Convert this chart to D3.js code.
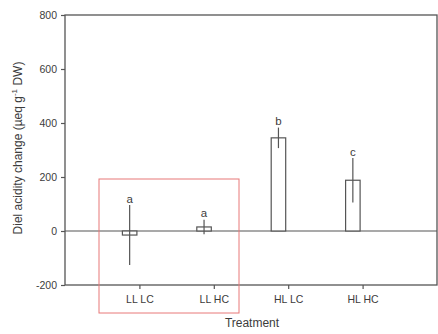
<!DOCTYPE html>
<html><head><meta charset="utf-8">
<script src="https://cdn.jsdelivr.net/npm/d3@7"></script>
<style>body{margin:0;background:#fff;}svg{display:block;font-family:Arial,"Liberation Sans",sans-serif;}</style>
</head><body>
<svg id="c" width="438" height="334"></svg>
<script>
const categories = ["LL LC", "LL HC", "HL LC", "HL HC"];
const means = [-15, 15, 345, 188];
const errors = [111, 27, 38, 82];
const letters = ["a", "a", "b", "c"];
const yTicks = [-200, 0, 200, 400, 600, 800];

const svg = d3.select("#c");
const L = 65, R = 437, T = 15, B = 285;
const x = d3.scaleLinear().domain([0, 5]).range([L, R]);
const y = d3.scaleLinear().domain([-200, 800]).range([B, T]);
const ink = "#555";
const txt = "#3c3c3c";
const bw = 14.5;
const ff = "Arial, Liberation Sans, sans-serif";

// frame
svg.append("rect").attr("x", L).attr("y", T).attr("width", R - L).attr("height", B - T)
  .attr("fill", "none").attr("stroke", ink).attr("stroke-width", 1.3);

// zero line
svg.append("line").attr("x1", L).attr("x2", R).attr("y1", y(0)).attr("y2", y(0))
  .attr("stroke", ink).attr("stroke-width", 1.2);

// y axis
const ya = svg.append("g").attr("transform", `translate(${L},0)`)
  .call(d3.axisLeft(y).tickValues(yTicks).tickFormat(d => String(d)).tickSize(4).tickPadding(4));
ya.select(".domain").remove();
ya.selectAll("line").attr("stroke", ink).attr("stroke-width", 1.2);
ya.selectAll("text").attr("fill", txt).attr("font-size", 10.5).attr("font-family", ff);

// x axis
const xa = svg.append("g").attr("transform", `translate(0,${B})`)
  .call(d3.axisBottom(x).tickValues([1, 2, 3, 4]).tickFormat(d => categories[d - 1]).tickSize(4).tickPadding(7));
xa.select(".domain").remove();
xa.selectAll("line").attr("stroke", ink).attr("stroke-width", 1.2);
xa.selectAll("text").attr("fill", txt).attr("font-size", 10.5).attr("font-family", ff);

// bars
const g = svg.append("g");
categories.forEach((c, i) => {
  const cx = x(i + 1) - 2.5 - bw / 2;
  const m = means[i], e = errors[i];
  g.append("rect").attr("x", cx - bw / 2).attr("width", bw)
    .attr("y", y(Math.max(0, m))).attr("height", Math.abs(y(m) - y(0)))
    .attr("fill", "#fff").attr("stroke", ink).attr("stroke-width", 1.2);
  g.append("line").attr("x1", cx).attr("x2", cx).attr("y1", y(m + e)).attr("y2", y(m - e))
    .attr("stroke", ink).attr("stroke-width", 1.2);
  g.append("text").attr("x", cx).attr("y", y(m + e) - 2.5).attr("text-anchor", "middle")
    .attr("fill", txt).attr("font-size", 11.5).text(letters[i]);
});

// axis titles
svg.append("text").attr("x", 252).attr("y", 327).attr("text-anchor", "middle")
  .attr("fill", txt).attr("font-size", 12).text("Treatment");
const yl = svg.append("text").attr("transform", "translate(22,148) rotate(-90)")
  .attr("text-anchor", "middle").attr("fill", txt).attr("font-size", 12);
yl.append("tspan").text("Diel acidity change (µeq g");
yl.append("tspan").attr("dy", -5).attr("font-size", 8).text("-1");
yl.append("tspan").attr("dy", 5).text(" DW)");

// red highlight rectangle
svg.append("rect").attr("x", 99).attr("y", 179).attr("width", 140).attr("height", 134)
  .attr("fill", "none").attr("stroke", "#e87878").attr("stroke-width", 1);
</script>
</body></html>
